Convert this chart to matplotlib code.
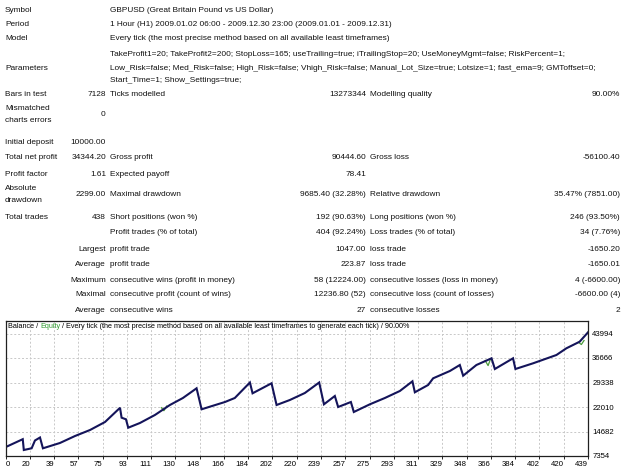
import numpy as np
import matplotlib
matplotlib.use("Agg")
import matplotlib.pyplot as plt

plt.rcParams['font.family'] = ['Liberation Sans', 'DejaVu Sans']

W, H = 625, 470

# balance curve (trade number, balance)
trade_no = [0, 13, 13.8, 19.7, 22.2, 26, 28.2, 41, 52.4, 63.7, 75, 86.3, 87.5, 90.8, 92.5,
            101.3, 112.6, 123.9, 133.7, 144, 147.8, 154, 165.4, 172.8, 184.2, 186.2, 200.5,
            204.3, 214.3, 225.6, 236.4, 240, 248.2, 250.7, 260.3, 262.5, 274.6, 285.9, 297.2,
            306.7, 308.5, 318.5, 322.3, 334.9, 342.4, 344.9, 354.9, 366.3, 368.8, 382.5, 384.3,
            397.6, 415.2, 422.7, 432.7, 439]
balance = [10000, 12379, 9149, 9657, 11990, 12887, 9657, 11242, 13336, 15131, 17523, 21771,
           18810, 18331, 15819, 17224, 19617, 22608, 24702, 27603, 21322, 22100, 23505, 24702,
           29338, 26107, 29099, 22608, 24104, 26197, 29338, 22818, 25300, 22010, 23505, 20514,
           22818, 24702, 26796, 29697, 26407, 28590, 30594, 32778, 34572, 31372, 34572, 36576,
           33376, 36576, 33376, 35080, 37563, 39568, 41541, 44344]

# small equity dips visible under the balance line
eq_dip_trades = [[117.5, 119.4, 121.5], [361.5, 363.7, 365.5], [432.0, 434.0, 436.0]]
eq_dip_values = [[21800, 20900, 22300], [35900, 34400, 36300], [41300, 40700, 41900]]

x_labels = ['0', '20', '39', '57', '75', '93', '111', '130', '148', '166', '184', '202', '220',
            '239', '257', '275', '293', '311', '329', '348', '366', '384', '402', '420', '439']
y_ticks = [7354, 14682, 22010, 29338, 36666, 43994]

# report table text
header_rows = [
    (10, 'Symbol', 'GBPUSD (Great Britain Pound vs US Dollar)'),
    (24, 'Period', '1 Hour (H1) 2009.01.02 06:00 - 2009.12.30 23:00 (2009.01.01 - 2009.12.31)'),
    (39, 'Model', 'Every tick (the most precise method based on all available least timeframes)'),
]
param_lines = [
    'TakeProfit1=20; TakeProfit2=200; StopLoss=165; useTrailing=true; iTrailingStop=20; UseMoneyMgmt=false; RiskPercent=1;',
    'Low_Risk=false; Med_Risk=false; High_Risk=false; Vhigh_Risk=false; Manual_Lot_Size=true; Lotsize=1; fast_ema=9; GMToffset=0;',
    'Start_Time=1; Show_Settings=true;',
]
# (y, label, value1, label2, value2, label3, value3)
stat_rows = [
    (95, 'Bars in test', '7128', 'Ticks modelled', '13273344', 'Modelling quality', '90.00%'),
    (143, 'Initial deposit', '10000.00', '', '', '', ''),
    (158, 'Total net profit', '34344.20', 'Gross profit', '90444.60', 'Gross loss', '-56100.40'),
    (174, 'Profit factor', '1.61', 'Expected payoff', '78.41', '', ''),
    (194, '', '2299.00', 'Maximal drawdown', '9685.40 (32.28%)', 'Relative drawdown', '35.47% (7851.00)'),
    (217, 'Total trades', '438', 'Short positions (won %)', '192 (90.63%)', 'Long positions (won %)', '246 (93.50%)'),
    (233, '', '', 'Profit trades (% of total)', '404 (92.24%)', 'Loss trades (% of total)', '34 (7.76%)'),
]
sub_rows = [
    (249, 'Largest', 'profit trade', '1047.00', 'loss trade', '-1650.20'),
    (265, 'Average', 'profit trade', '223.87', 'loss trade', '-1650.01'),
    (280, 'Maximum', 'consecutive wins (profit in money)', '58 (12224.00)', 'consecutive losses (loss in money)', '4 (-6600.00)'),
    (295, 'Maximal', 'consecutive profit (count of wins)', '12236.80 (52)', 'consecutive loss (count of losses)', '-6600.00 (4)'),
    (310, 'Average', 'consecutive wins', '27', 'consecutive losses', '2'),
]

FS = 5.95
fig = plt.figure(figsize=(W / 100, H / 100), dpi=100)


def put(px, py, s, ha='left', color='#111111', size=FS):
    fig.text(px / W, 1 - py / H, s, ha=ha, va='center', fontsize=size, color=color)


C1, V1, C2, V2, C3, V3 = 5, 106, 110, 366, 370, 620

for y, lab, val in header_rows:
    put(C1, y, lab)
    put(C2, y, val)
put(C1, 68, 'Parameters')
for i, s in enumerate(param_lines):
    put(C2, 55 + i * 13, s)

for y, l1, v1, l2, v2, l3, v3 in stat_rows:
    put(C1, y, l1)
    put(V1, y, v1, ha='right')
    put(C2, y, l2)
    put(V2, y, v2, ha='right')
    put(C3, y, l3)
    put(V3, y, v3, ha='right')
put(C1, 108, 'Mismatched')
put(C1, 121, 'charts errors')
put(V1 - 1, 115, '0', ha='right')
put(C1, 188, 'Absolute')
put(C1, 200, 'drawdown')

for y, l1, l2, v2, l3, v3 in sub_rows:
    put(V1, y, l1, ha='right')
    put(C2, y, l2)
    put(V2, y, v2, ha='right')
    put(C3, y, l3)
    put(V3, y, v3, ha='right')

# balance graph
left, right, top, bottom = 5.5, 588, 321, 456
ax = fig.add_axes([left / W, 1 - bottom / H, (right - left) / W, (bottom - top) / H])
ax.set_xlim(0, 439)
step = y_ticks[1] - y_ticks[0]
ax.set_ylim(y_ticks[0], y_ticks[0] + (bottom - top) / ((bottom - 333.5) / 5) * step)

ax.set_xticks(np.linspace(0, 439, len(x_labels)))
ax.set_xticklabels(x_labels)
ax.set_yticks(y_ticks)
ax.set_yticklabels([str(v) for v in y_ticks])
ax.yaxis.tick_right()
ax.tick_params(axis='y', length=0, pad=3, labelsize=5.6)
ax.tick_params(axis='x', length=2, pad=1.5, labelsize=5.6, width=0.6)
for i, t in enumerate(ax.get_xticklabels()):
    t.set_ha('left' if i == 0 else 'right')

ax.grid(True, color='#c8c8c8', linestyle=(0, (2, 2)), linewidth=0.7)
for s in ax.spines.values():
    s.set_linewidth(0.9)
    s.set_color('#202020')

for xs, ys in zip(eq_dip_trades, eq_dip_values):
    ax.plot(xs, ys, color='#4a9a3a', linewidth=0.9)
ax.plot(trade_no, balance, color='#14145a', linewidth=1.5, solid_joinstyle='miter')

# title strip inside the graph
renderer = fig.canvas.get_renderer()
tx = 8
for part, col in [('Balance / ', 'black'), ('Equity', '#2e9a2e'),
                  (' / Every tick (the most precise method based on all available least timeframes to generate each tick) / 90.00%', 'black')]:
    t = fig.text(tx / W, 1 - 327 / H, part, ha='left', va='center', fontsize=5.2, color=col)
    tx += t.get_window_extent(renderer).width

fig.savefig('out.png', dpi=100)
